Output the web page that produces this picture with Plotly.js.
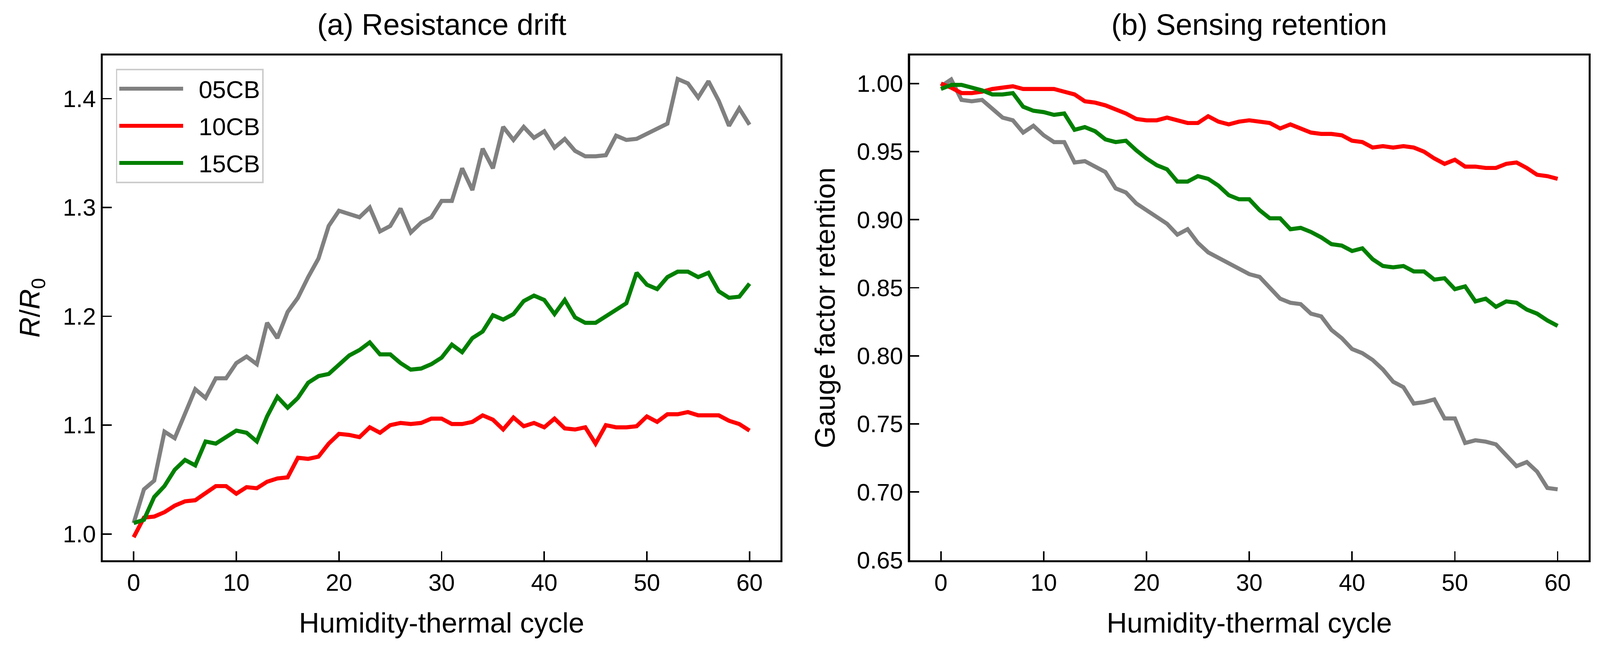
<!DOCTYPE html>
<html>
<head>
<meta charset="utf-8">
<script src="https://cdn.plot.ly/plotly-3.0.1.min.js"></script>
<style>
    html, body { margin: 0; padding: 0; background: #ffffff; overflow: hidden; }
    #chart { width: 100vw; height: 100vh; }
</style>
</head>
<body>
<div id="chart"></div>
<script>
// Humidity-thermal cycle index
const cycles = Array.from({ length: 61 }, (_, i) => i);

const seriesNames = ['05CB', '10CB', '15CB'];
const seriesColors = ['#808080', '#ff0000', '#008000'];

// (a) Resistance drift, R/R0
const drift05CB = [1.010, 1.041, 1.049, 1.094, 1.088, 1.110, 1.133, 1.125, 1.143, 1.143,
    1.157, 1.163, 1.156, 1.194, 1.180, 1.204, 1.217, 1.236, 1.253, 1.283,
    1.297, 1.294, 1.291, 1.300, 1.278, 1.283, 1.299, 1.277, 1.286, 1.291,
    1.306, 1.306, 1.336, 1.316, 1.354, 1.336, 1.374, 1.362, 1.374, 1.364,
    1.370, 1.355, 1.363, 1.352, 1.347, 1.347, 1.348, 1.366, 1.362, 1.363,
    1.368, 1.373, 1.377, 1.418, 1.414, 1.401, 1.416, 1.398, 1.375, 1.391,
    1.376];
const drift10CB = [0.997, 1.015, 1.016, 1.020, 1.026, 1.030, 1.031, 1.038, 1.044, 1.044,
    1.037, 1.043, 1.042, 1.048, 1.051, 1.052, 1.070, 1.069, 1.071, 1.083,
    1.092, 1.091, 1.089, 1.098, 1.093, 1.100, 1.102, 1.101, 1.102, 1.106,
    1.106, 1.101, 1.101, 1.103, 1.109, 1.105, 1.096, 1.107, 1.099, 1.102,
    1.098, 1.106, 1.097, 1.096, 1.098, 1.083, 1.100, 1.098, 1.098, 1.099,
    1.108, 1.103, 1.110, 1.110, 1.112, 1.109, 1.109, 1.109, 1.104, 1.101,
    1.095];
const drift15CB = [1.010, 1.013, 1.034, 1.044, 1.059, 1.068, 1.063, 1.085, 1.083, 1.089,
    1.095, 1.093, 1.085, 1.108, 1.126, 1.116, 1.125, 1.139, 1.145, 1.147,
    1.155, 1.164, 1.169, 1.176, 1.165, 1.165, 1.157, 1.151, 1.152, 1.156,
    1.162, 1.174, 1.167, 1.180, 1.186, 1.201, 1.197, 1.202, 1.214, 1.219,
    1.215, 1.202, 1.215, 1.199, 1.194, 1.194, 1.200, 1.206, 1.212, 1.240,
    1.229, 1.225, 1.236, 1.241, 1.241, 1.236, 1.240, 1.223, 1.217, 1.218,
    1.230];

// (b) Sensing retention, gauge factor retention
const retention05CB = [0.998, 1.003, 0.988, 0.987, 0.988, 0.981, 0.975, 0.973, 0.964, 0.969,
    0.962, 0.957, 0.957, 0.942, 0.943, 0.939, 0.935, 0.923, 0.920, 0.912,
    0.907, 0.902, 0.897, 0.889, 0.893, 0.883, 0.876, 0.872, 0.868, 0.864,
    0.860, 0.858, 0.850, 0.842, 0.839, 0.838, 0.831, 0.829, 0.819, 0.813,
    0.805, 0.802, 0.797, 0.790, 0.781, 0.777, 0.765, 0.766, 0.768, 0.754,
    0.754, 0.736, 0.738, 0.737, 0.735, 0.727, 0.719, 0.722, 0.715, 0.703,
    0.702];
const retention10CB = [1.000, 0.997, 0.993, 0.993, 0.994, 0.996, 0.997, 0.998, 0.996, 0.996,
    0.996, 0.996, 0.994, 0.992, 0.987, 0.986, 0.984, 0.981, 0.978, 0.974,
    0.973, 0.973, 0.975, 0.973, 0.971, 0.971, 0.976, 0.972, 0.970, 0.972,
    0.973, 0.972, 0.971, 0.967, 0.970, 0.967, 0.964, 0.963, 0.963, 0.962,
    0.958, 0.957, 0.953, 0.954, 0.953, 0.954, 0.953, 0.950, 0.945, 0.941,
    0.944, 0.939, 0.939, 0.938, 0.938, 0.941, 0.942, 0.938, 0.933, 0.932,
    0.930];
const retention15CB = [0.996, 0.999, 0.999, 0.997, 0.995, 0.992, 0.992, 0.993, 0.983, 0.980,
    0.979, 0.977, 0.978, 0.966, 0.968, 0.965, 0.959, 0.957, 0.958, 0.951,
    0.945, 0.940, 0.937, 0.928, 0.928, 0.932, 0.930, 0.925, 0.918, 0.915,
    0.915, 0.907, 0.901, 0.901, 0.893, 0.894, 0.891, 0.887, 0.882, 0.881,
    0.877, 0.879, 0.871, 0.866, 0.865, 0.866, 0.862, 0.862, 0.856, 0.857,
    0.849, 0.851, 0.840, 0.842, 0.836, 0.840, 0.839, 0.834, 0.831, 0.826,
    0.822];

const FONT = 'Liberation Sans, Arial, sans-serif';

// Sizes below are tuned for a 4310 px wide figure; scale to the real viewport
const W = window.innerWidth || 4310;
const H = window.innerHeight || 1679;
const S = W / 4310;
const px = v => v * S;

function makeTrace(y, idx, xaxis, yaxis, showLegend) {
    return {
        x: cycles,
        y: y,
        type: 'scatter',
        mode: 'lines',
        // non-breaking spaces push the legend text away from the line sample
        name: '\u00a0\u00a0' + seriesNames[idx],
        legendgroup: seriesNames[idx],
        line: { color: seriesColors[idx], width: px(11) },
        xaxis: xaxis,
        yaxis: yaxis,
        showlegend: showLegend,
        hoverinfo: 'skip'
    };
}

function axisStyle(extra) {
    const base = {
        showline: true,
        linecolor: '#000000',
        linewidth: px(6),
        mirror: true,
        ticks: 'inside',
        ticklen: px(24),
        tickwidth: px(4),
        tickcolor: '#000000',
        showgrid: false,
        zeroline: false,
        tickfont: { family: FONT, size: px(64), color: '#000000' }
    };
    return { ...base, ...extra };
}

const data = [
    makeTrace(drift05CB, 0, 'x', 'y', true),
    makeTrace(drift10CB, 1, 'x', 'y', true),
    makeTrace(drift15CB, 2, 'x', 'y', true),
    makeTrace(retention05CB, 0, 'x2', 'y2', false),
    makeTrace(retention10CB, 1, 'x2', 'y2', false),
    makeTrace(retention15CB, 2, 'x2', 'y2', false)
];

const labelFont = { family: FONT, size: px(76), color: '#000000' };
const xTitle = { text: 'Humidity-thermal cycle', font: labelFont, standoff: px(48) };

const layout = {
    width: W,
    height: H,
    margin: { l: 0, r: 0, t: 0, b: 0 },
    paper_bgcolor: '#ffffff',
    plot_bgcolor: '#ffffff',
    font: { family: FONT, color: '#000000' },
    xaxis: axisStyle({
        domain: [0.0643, 0.4877],
        range: [-3, 63],
        dtick: 10,
        anchor: 'y',
        ticklabelstandoff: px(-14),
        title: xTitle
    }),
    yaxis: axisStyle({
        domain: [0.1462, 0.9152],
        range: [0.976, 1.4395],
        dtick: 0.1,
        tickformat: '.1f',
        anchor: 'x',
        ticklabelstandoff: px(12),
        title: { text: '<i>R</i>/<i>R</i><sub>0</sub>', font: labelFont, standoff: px(40) }
    }),
    xaxis2: axisStyle({
        domain: [0.5688, 0.9928],
        range: [-3, 63],
        dtick: 10,
        anchor: 'y2',
        ticklabelstandoff: px(-14),
        title: xTitle
    }),
    yaxis2: axisStyle({
        domain: [0.1462, 0.9152],
        range: [0.65, 1.0205],
        dtick: 0.05,
        tickformat: '.2f',
        anchor: 'x2',
        ticklabelstandoff: px(12),
        title: { text: 'Gauge factor retention', font: labelFont, standoff: px(36) }
    }),
    showlegend: true,
    legend: {
        x: 0.0724,
        y: 0.8952,
        xanchor: 'left',
        yanchor: 'top',
        bgcolor: '#ffffff',
        bordercolor: '#cccccc',
        borderwidth: px(4),
        font: { family: FONT, size: px(66), color: '#000000' },
        itemwidth: px(172),
        tracegroupgap: px(11)
    },
    annotations: [
        {
            text: '(a) Resistance drift',
            xref: 'paper', yref: 'paper',
            x: 0.2761, y: 0.9625,
            xanchor: 'center', yanchor: 'middle',
            showarrow: false,
            font: { family: FONT, size: px(80), color: '#000000' }
        },
        {
            text: '(b) Sensing retention',
            xref: 'paper', yref: 'paper',
            x: 0.7808, y: 0.9625,
            xanchor: 'center', yanchor: 'middle',
            showarrow: false,
            font: { family: FONT, size: px(80), color: '#000000' }
        }
    ]
};

Plotly.newPlot('chart', data, layout, { displayModeBar: false, staticPlot: true });
</script>
</body>
</html>
